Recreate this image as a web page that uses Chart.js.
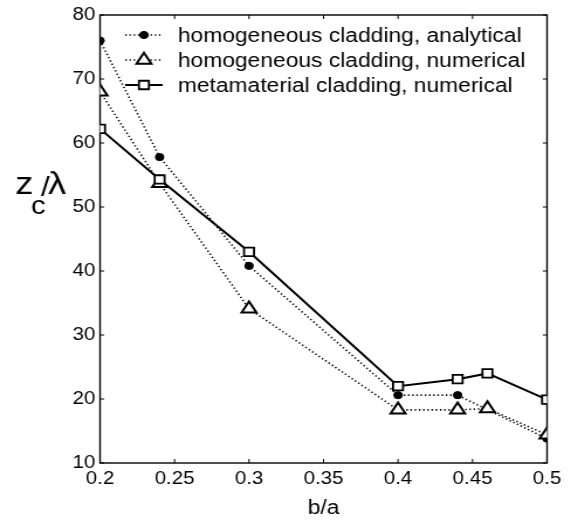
<!DOCTYPE html>
<html>
<head>
<meta charset="utf-8">
<script src="https://cdn.jsdelivr.net/npm/chart.js@4.4.0/dist/chart.umd.min.js"></script>
<style>
html, body { margin: 0; padding: 0; background: #fff; }
canvas { display: block; }
</style>
</head>
<body>
<!-- the original figure is stretched sideways, so the canvas is drawn narrower and stretched by css -->
<canvas id="myChart" width="488" height="520" style="width:571px;height:520px"></canvas>
<script>
var ba_analytical = [0.2, 0.24, 0.3, 0.4, 0.44, 0.5];
var zc_analytical = [76, 57.8, 40.8, 20.6, 20.6, 13.8];

var ba_numerical = [0.2, 0.24, 0.3, 0.4, 0.44, 0.46, 0.5];
var zc_numerical = [68, 53.7, 34.1, 18.3, 18.3, 18.5, 14.4];

var ba_meta = [0.2, 0.24, 0.3, 0.4, 0.44, 0.46, 0.5];
var zc_meta = [62.2, 54.3, 43, 22, 23.1, 24, 19.9];

var series_names = ['homogeneous cladding, analytical', 'homogeneous cladding, numerical', 'metamaterial cladding, numerical'];
var x_ticks = [0.2, 0.25, 0.3, 0.35, 0.4, 0.45, 0.5];
var y_ticks = [10, 20, 30, 40, 50, 60, 70, 80];

var FONT = '"Liberation Sans", Arial, Helvetica, sans-serif';

function toPoints(xs, ys){
    var pts = [];
    for (let i = 0; i < xs.length; i++) {
        pts.push({x: xs[i], y: ys[i]});
    }
    return pts;
}

function drawMarker(ctx, style, r, x, y, fill, lw){
    ctx.save();
    ctx.beginPath();
    if (style == 'circle') {
        ctx.arc(x, y, r, 0, Math.PI * 2);
    } else if (style == 'triangle') {
        ctx.moveTo(x, y - r);
        ctx.lineTo(x + Math.sin(Math.PI / 3) * r, y + r / 2);
        ctx.lineTo(x - Math.sin(Math.PI / 3) * r, y + r / 2);
        ctx.closePath();
    } else {
        var s = Math.SQRT1_2 * r;
        ctx.rect(x - s, y - s, 2 * s, 2 * s);
    }
    ctx.fillStyle = fill;
    ctx.fill();
    ctx.lineWidth = lw;
    ctx.strokeStyle = '#000';
    ctx.setLineDash([]);
    ctx.stroke();
    ctx.restore();
}

// box round the plot with short inward ticks on all four sides
var framePlugin = {
    id: 'frame',
    beforeDatasetsDraw: function(chart){
        var ctx = chart.ctx;
        var a = chart.chartArea;
        var xs = chart.scales.x, ys = chart.scales.y;
        ctx.save();
        ctx.strokeStyle = '#000';
        ctx.lineWidth = 1.4;
        ctx.strokeRect(a.left, a.top, a.right - a.left, a.bottom - a.top);
        ctx.lineWidth = 1;
        ctx.beginPath();
        for (let i = 0; i < x_ticks.length; i++) {
            var px = xs.getPixelForValue(x_ticks[i]);
            ctx.moveTo(px, a.bottom); ctx.lineTo(px, a.bottom - 4);
            ctx.moveTo(px, a.top); ctx.lineTo(px, a.top + 4);
        }
        for (let i = 0; i < y_ticks.length; i++) {
            var py = ys.getPixelForValue(y_ticks[i]);
            ctx.moveTo(a.left, py); ctx.lineTo(a.left + 3.5, py);
            ctx.moveTo(a.right, py); ctx.lineTo(a.right - 3.5, py);
        }
        ctx.stroke();
        ctx.restore();
    },
    afterDraw: function(chart){
        var ctx = chart.ctx;
        ctx.save();
        ctx.fillStyle = '#000';
        ctx.textBaseline = 'alphabetic';

        // legend inside the plot, top left
        var rows = [35, 60, 85];
        var sets = chart.data.datasets;
        for (let i = 0; i < sets.length; i++) {
            var ds = sets[i];
            var y = rows[i];
            ctx.beginPath();
            ctx.strokeStyle = '#000';
            ctx.lineWidth = ds.borderWidth;
            ctx.setLineDash(ds.borderDash || []);
            ctx.moveTo(107, y);
            ctx.lineTo(139, y);
            ctx.stroke();
            ctx.setLineDash([]);
            drawMarker(ctx, ds.pointStyle, ds.pointRadius, 123, y, ds.pointBackgroundColor, ds.pointBorderWidth);
            ctx.fillStyle = '#000';
            ctx.font = '19.5px ' + FONT;
            ctx.textAlign = 'left';
            ctx.fillText(series_names[i], 152, y + 6.5);
        }

        // y axis label z_c / lambda
        ctx.font = '31px ' + FONT;
        ctx.fillText('z', 13, 194);
        ctx.font = '25px ' + FONT;
        ctx.fillText('c', 26.5, 214);
        ctx.font = '27px ' + FONT;
        ctx.fillText('/', 35, 196);
        ctx.font = '31px ' + FONT;
        ctx.fillText('\u03BB', 41, 194);
        ctx.restore();
    }
};

var ctx = document.getElementById('myChart').getContext('2d');

var chart = new Chart(ctx, {
    type: 'scatter',
    data: {
        datasets: [{
            label: series_names[0],
            data: toPoints(ba_analytical, zc_analytical),
            showLine: true,
            borderColor: '#000',
            borderWidth: 1.6,
            borderDash: [1.3, 2.3],
            pointStyle: 'circle',
            pointRadius: 3.6,
            pointBackgroundColor: '#000',
            pointBorderColor: '#000',
            pointBorderWidth: 1,
            order: 2
        },{
            label: series_names[1],
            data: toPoints(ba_numerical, zc_numerical),
            showLine: true,
            borderColor: '#000',
            borderWidth: 1.6,
            borderDash: [1.3, 2.3],
            pointStyle: 'triangle',
            pointRadius: 7.3,
            pointBackgroundColor: '#fff',
            pointBorderColor: '#000',
            pointBorderWidth: 2,
            order: 1
        },{
            label: series_names[2],
            data: toPoints(ba_meta, zc_meta),
            showLine: true,
            borderColor: '#000',
            borderWidth: 2,
            pointStyle: 'rect',
            pointRadius: 6,
            pointBackgroundColor: '#fff',
            pointBorderColor: '#000',
            pointBorderWidth: 1.8,
            order: 0
        }]
    },
    options: {
        responsive: false,
        animation: false,
        devicePixelRatio: 1,
        layout: {padding: {left: 0, right: 20.5, top: 15, bottom: 0}},
        plugins: {
            legend: {display: false},
            tooltip: {enabled: false}
        },
        scales: {
            x: {
                type: 'linear',
                min: 0.2,
                max: 0.5,
                grid: {display: false, drawTicks: false},
                border: {display: false},
                afterBuildTicks: function(s){ s.ticks = x_ticks.map(v => ({value: v})); },
                afterFit: function(s){ s.height = 57; },
                ticks: {
                    color: '#000',
                    font: {family: FONT, size: 17.5},
                    padding: 6,
                    maxRotation: 0,
                    autoSkip: false,
                    callback: function(v){ return String(v); }
                },
                title: {
                    display: true,
                    text: 'b/a',
                    color: '#000',
                    font: {family: FONT, size: 19.5},
                    padding: {top: 0, bottom: 0}
                }
            },
            y: {
                type: 'linear',
                min: 10,
                max: 80,
                grid: {display: false, drawTicks: false},
                border: {display: false},
                afterBuildTicks: function(s){ s.ticks = y_ticks.map(v => ({value: v})); },
                afterFit: function(s){ s.width = 85.5; },
                ticks: {
                    color: '#000',
                    font: {family: FONT, size: 17.5},
                    padding: 4,
                    autoSkip: false,
                    callback: function(v){ return String(v); }
                }
            }
        }
    },
    plugins: [framePlugin]
});
</script>
</body>
</html>
